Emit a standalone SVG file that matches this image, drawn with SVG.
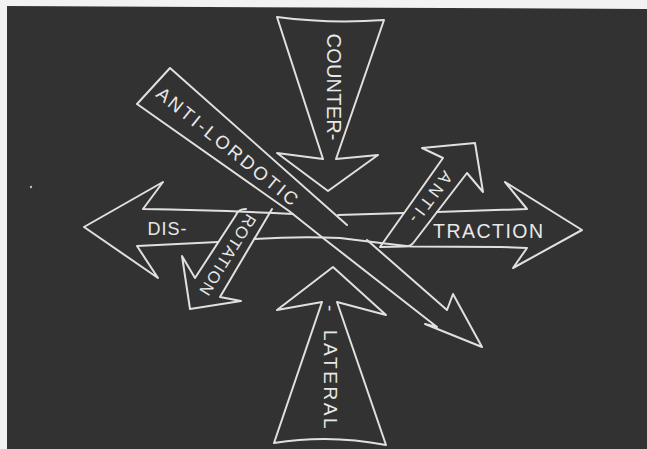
<svg xmlns="http://www.w3.org/2000/svg" width="647" height="449" viewBox="0 0 647 449">
<style>
.ln{fill:none;stroke:#e0e0e0;stroke-width:2;stroke-linejoin:round;stroke-linecap:round}
.tx{fill:#e8e8e8;font-family:"Liberation Sans","DejaVu Sans",sans-serif;text-anchor:middle}
</style>
<g id="background">
<rect x="0" y="0" width="647" height="449" fill="#f2f2f2"/>
<polygon points="7,6 647,9 647,449 7,449" fill="#323232"/>
<circle cx="31" cy="187" r="1.2" fill="#bdbdbd"/>
</g>
<g id="counter">
<path class="ln" d="M277,17 Q330,24 384,20 L336,159 L378,155 L328,191 L277,153 L323,159 Z"/>
<text class="tx" font-size="20" transform="translate(334,87) rotate(90)" dy="0.36em" textLength="107" lengthAdjust="spacing">COUNTER-</text>
</g>
<g id="lateral">
<path class="ln" d="M333,267 L386,315 L337,302 L386,445 Q330,434 274,443 L322,302 L277,310 Z"/>
<text class="tx" font-size="19" transform="translate(330.5,305) rotate(90)" dy="0.36em" style="text-anchor:start" letter-spacing="2.6">-<tspan dx="16">LATERAL</tspan></text>
</g>
<g id="dis-traction">
<path class="ln" d="M143,209 L163,182 L84,227 L158,278 L137,246 M143,209 Q215,210 293,214 M338,215 Q370,214 404,213 M437,212 L527,209 L505,182 L582,230 L513,268 L527,248 M137,246 L218,242 M254,239 Q300,236 340,238 Q380,243 411,246.5 L500,247 L527,248"/>
<text class="tx" font-size="18" x="167" y="235" textLength="39" lengthAdjust="spacing">DIS-</text>
<text class="tx" font-size="19.5" x="488" y="238" textLength="110" lengthAdjust="spacing">TRACTION</text>
</g>
<g id="anti-lordotic">
<path class="ln" d="M137,104 L170,68 L347,225 M367,240 L447,310 L453,294 L482,347 L425,324 L437,327 L323,238 L289,211 L137,104"/>
<text class="tx" font-size="18.5" transform="translate(227.5,146) rotate(39)" dy="0.36em" textLength="176" lengthAdjust="spacing">ANTI-LORDOTIC</text>
</g>
<g id="rotation">
<path class="ln" d="M246,209 Q238,209 236,215 L195,278 L182,256 L190,309 L241,301 L220,297 L272,209"/>
<text class="tx" font-size="16.5" transform="translate(228,255) rotate(122)" dy="0.36em" textLength="92" lengthAdjust="spacing">ROTATION</text>
</g>
<g id="anti">
<path class="ln" d="M405,246.5 Q382,247 380,247 L443,158 L422,148 L475,143 L483,192 L467,173 L414,242 Q411,246.5 405,246.5"/>
<text class="tx" font-size="17" transform="translate(431,197.5) rotate(127)" dy="0.36em" textLength="60" lengthAdjust="spacing">ANTI-</text>
</g>
</svg>
